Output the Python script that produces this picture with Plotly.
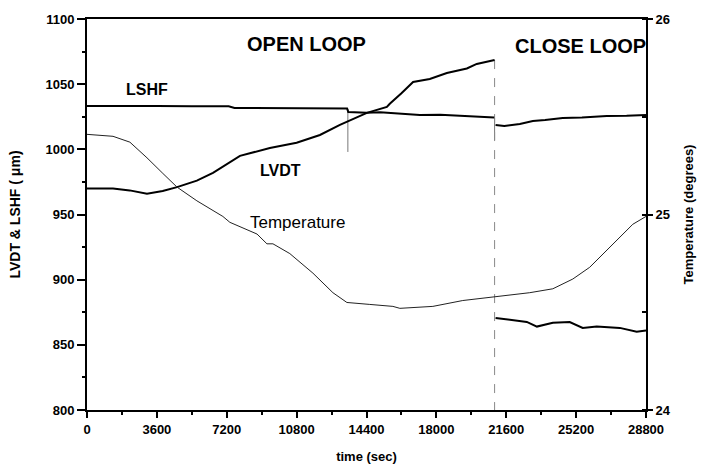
import plotly.graph_objects as go

# ---- data ----
lshf_t = [0, 1800, 3600, 5400, 7300, 7600, 9000, 11000, 13400, 13460, 14400, 15100, 16000, 17150, 18200,
          19360, 20750, 20980, None, 21050, 21500, 22300, 22970, 23600, 24510, 25500, 26780, 27800, 28800]
lshf_v = [1033.3, 1033, 1033.2, 1033, 1033, 1031.7, 1031.5, 1031.7, 1031.3, 1028.7, 1028, 1028.5, 1027.5, 1026.4, 1026.5,
          1025.6, 1024.8, 1024.5, None, 1018.7, 1018, 1019.5, 1021.8, 1022.5, 1024, 1024.5, 1025.6, 1025.8, 1026.4]

lvdt_t = [0, 1340, 2200, 3090, 3900, 4640, 5660, 6490, 7880, 8700, 9420, 10800, 12000, 13030, 14420,
          15450, 15600, 16200, 16800, 17660, 18540, 19570, 20080, 21000, None,
          21050, 22000, 22660, 23180, 24000, 24870, 25540, 26260, 27450, 28320, 28800]
lvdt_v = [970, 970, 968.5, 966, 968, 971, 976, 982, 995, 998, 1001, 1005, 1011, 1018.7, 1028,
          1032.5, 1035, 1043, 1051.7, 1054, 1058.6, 1062, 1065.5, 1068.5, None,
          870.6, 869, 867.6, 864, 867, 867.5, 863, 864, 863, 860, 861]

temp_t = [0, 1340, 2210, 3090, 3910, 4640, 5660, 7000, 7360, 8760, 9270, 9580, 10450, 11640, 12670, 13390,
          14570, 15760, 16120, 17820, 19360, 21010, 22810, 24000, 25030, 25900, 27090, 28120, 28800]
temp_c = [25.41, 25.40, 25.37, 25.29, 25.21, 25.14, 25.07, 24.99, 24.96, 24.90, 24.85, 24.85, 24.80, 24.70, 24.60, 24.55,
          24.54, 24.53, 24.52, 24.53, 24.56, 24.58, 24.60, 24.62, 24.67, 24.73, 24.85, 24.95, 24.99]

spike_t = [13440, 13440, None, 21000, 21000]
spike_v = [1031, 998, None, 1024, 1007]

switch_t = [21000, 21000]
switch_v = [1068.5, 800]

x_ticks = [0, 3600, 7200, 10800, 14400, 18000, 21600, 25200, 28800]
x_labels = ["0", "3600", "7200", "10800", "14400", "18000", "21600", "25200", "28800"]
y_ticks = [800, 850, 900, 950, 1000, 1050, 1100]
t_ticks = [24, 25, 26]

FONT = "Arial, Liberation Sans, sans-serif"

fig = go.Figure()
fig.add_trace(go.Scatter(x=spike_t, y=spike_v, mode="lines", line=dict(color="#777", width=1),
                         showlegend=False, hoverinfo="skip"))
fig.add_trace(go.Scatter(x=switch_t, y=switch_v, mode="lines", line=dict(color="#888", width=1, dash="dash"),
                         showlegend=False, hoverinfo="skip"))
fig.add_trace(go.Scatter(x=lshf_t, y=lshf_v, mode="lines", name="LSHF",
                         line=dict(color="black", width=2), connectgaps=False, showlegend=False))
fig.add_trace(go.Scatter(x=lvdt_t, y=lvdt_v, mode="lines", name="LVDT",
                         line=dict(color="black", width=2), connectgaps=False, showlegend=False))
fig.add_trace(go.Scatter(x=temp_t, y=temp_c, mode="lines", name="Temperature", yaxis="y2",
                         line=dict(color="#222", width=1), showlegend=False))

tickf = dict(family=FONT, size=13, color="black", weight="bold")
fig.update_layout(
    width=704, height=471,
    margin=dict(l=87, r=58, t=19, b=61),
    paper_bgcolor="white", plot_bgcolor="white",
    font=dict(family=FONT, color="black"),
    xaxis=dict(range=[0, 28800], tickvals=x_ticks, ticktext=x_labels, showgrid=False, zeroline=False,
               automargin=False,
               showline=True, linecolor="black", linewidth=2, mirror=True,
               ticks="outside", ticklen=6, tickwidth=1.5, tickcolor="black",
               minor=dict(dtick=1800, ticks="outside", ticklen=3, tickcolor="black"),
               tickfont=tickf,
               title=dict(text="time (sec)", font=dict(family=FONT, size=13, weight="bold"), standoff=16)),
    yaxis=dict(range=[800, 1100], tickvals=y_ticks, showgrid=False, zeroline=False,
               automargin=False,
               showline=True, linecolor="black", linewidth=2,
               ticks="outside", ticklen=8, tickwidth=1.5, tickcolor="black",
               minor=dict(dtick=25, ticks="outside", ticklen=3, tickcolor="black"),
               tickfont=tickf,
               title=dict(text="LVDT & LSHF ( \u03bcm)", font=dict(family=FONT, size=14, weight="bold"), standoff=22)),
    yaxis2=dict(range=[24, 26], tickvals=t_ticks, overlaying="y", side="right", showgrid=False, zeroline=False,
                automargin=False,
                showline=True, linecolor="black", linewidth=2,
                ticks="outside", ticklen=5, tickwidth=1.5, tickcolor="black",
                minor=dict(dtick=0.5, ticks="inside", ticklen=4, tickcolor="black"),
                tickfont=tickf,
                title=dict(text="Temperature (degrees)", font=dict(family=FONT, size=13, weight="bold"), standoff=14)),
)

anns = [
    ("OPEN LOOP", 11330, 1081, 20, "bold"),
    ("CLOSE LOOP", 25440, 1079, 20, "bold"),
    ("LSHF", 3090, 1045.6, 16, "bold"),
    ("LVDT", 9990, 984, 16, "bold"),
    ("Temperature", 10870, 943.5, 17, "normal"),
]
for txt, ax_, ay_, sz, wt in anns:
    fig.add_annotation(x=ax_, y=ay_, xref="x", yref="y", text=txt, showarrow=False,
                       font=dict(family=FONT, size=sz, color="black", weight=wt))

fig.write_html("out.html", config={"displayModeBar": False},
               post_script="document.body.style.margin='0';document.body.style.overflow='hidden';")
